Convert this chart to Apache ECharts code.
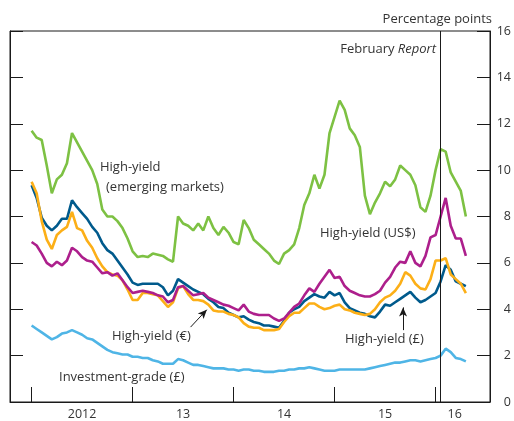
<!DOCTYPE html>
<html>
<head>
<meta charset="utf-8">
<script src="https://cdn.jsdelivr.net/npm/echarts@6/dist/echarts.min.js"></script>
<style>
  html, body { margin: 0; padding: 0; background: #fff; }
  #chart { width: 514px; height: 421px; }
</style>
</head>
<body>
<div id="chart"></div>
<script>
// dates as fractional years
const years = [
  2012.00, 2012.05, 2012.10, 2012.15, 2012.20, 2012.25, 2012.30, 2012.35, 2012.40, 2012.45,
  2012.50, 2012.55, 2012.60, 2012.65, 2012.70, 2012.75, 2012.80, 2012.85, 2012.90, 2012.95,
  2013.00, 2013.05, 2013.10, 2013.15, 2013.20, 2013.25, 2013.30, 2013.35, 2013.40, 2013.45,
  2013.50, 2013.55, 2013.60, 2013.65, 2013.70, 2013.75, 2013.80, 2013.85, 2013.90, 2013.95,
  2014.00, 2014.05, 2014.10, 2014.15, 2014.20, 2014.25, 2014.30, 2014.35, 2014.40, 2014.45,
  2014.50, 2014.55, 2014.60, 2014.65, 2014.70, 2014.75, 2014.80, 2014.85, 2014.90, 2014.95,
  2015.00, 2015.05, 2015.10, 2015.15, 2015.20, 2015.25, 2015.30, 2015.35, 2015.40, 2015.45,
  2015.50, 2015.55, 2015.60, 2015.65, 2015.70, 2015.75, 2015.80, 2015.85, 2015.90, 2015.95,
  2016.00, 2016.05, 2016.10, 2016.15, 2016.20, 2016.25, 2016.30
];

const hyEmerging = [
  11.7, 11.4, 11.3, 10.2, 9.0, 9.6, 9.8, 10.3, 11.6, 11.2,
  10.8, 10.4, 10.0, 9.4, 8.3, 8.0, 8.0, 7.8, 7.5, 7.05,
  6.5, 6.25, 6.3, 6.25, 6.4, 6.35, 6.3, 6.15, 6.05, 8.0,
  7.7, 7.6, 7.4, 7.7, 7.4, 8.0, 7.5, 7.2, 7.55, 7.3,
  6.9, 6.8, 7.85, 7.5, 7.0, 6.8, 6.6, 6.4, 6.1, 5.95,
  6.4, 6.55, 6.8, 7.5, 8.5, 9.0, 9.8, 9.2, 9.8, 11.6,
  12.3, 13.0, 12.6, 11.8, 11.5, 11.0, 8.9, 8.1, 8.6, 9.0,
  9.5, 9.3, 9.6, 10.2, 10.0, 9.8, 9.35, 8.4, 8.2, 8.9,
  10.0, 10.9, 10.8, 9.9, 9.5, 9.1, 8.0
];

const hySterling = [
  9.35, 8.8, 7.95, 7.6, 7.4, 7.6, 7.9, 7.9, 8.7, 8.4,
  8.15, 7.9, 7.55, 7.3, 6.85, 6.55, 6.4, 6.1, 5.8, 5.5,
  5.15, 5.05, 5.1, 5.1, 5.1, 5.1, 4.95, 4.6, 4.8, 5.3,
  5.15, 5.0, 4.85, 4.75, 4.65, 4.45, 4.3, 4.1, 4.05, 3.85,
  3.75, 3.65, 3.7, 3.55, 3.45, 3.4, 3.3, 3.3, 3.25, 3.2,
  3.5, 3.85, 4.0, 4.1, 4.35, 4.5, 4.65, 4.55, 4.5, 4.75,
  4.6, 4.7, 4.3, 4.05, 3.95, 3.85, 3.8, 3.7, 3.65, 3.9,
  4.2, 4.15, 4.3, 4.45, 4.6, 4.75, 4.5, 4.3, 4.4, 4.55,
  4.7, 5.2, 5.9, 5.7, 5.2, 5.1, 5.0
];

const hyEuro = [
  9.5, 9.0, 7.8, 7.0, 6.6, 7.2, 7.4, 7.55, 8.2, 7.5,
  7.4, 6.95, 6.65, 6.2, 5.85, 5.6, 5.5, 5.45, 5.25, 4.85,
  4.4, 4.4, 4.7, 4.7, 4.65, 4.6, 4.35, 4.1, 4.3, 4.9,
  5.0, 4.65, 4.4, 4.4, 4.35, 4.2, 3.95, 3.9, 3.9, 3.8,
  3.75, 3.65, 3.4, 3.25, 3.2, 3.2, 3.1, 3.1, 3.1, 3.15,
  3.45, 3.7, 3.85, 3.85, 4.05, 4.25, 4.25, 4.1, 4.0, 4.05,
  4.15, 4.2, 4.0, 3.95, 3.85, 3.8, 3.75, 3.8, 4.0, 4.3,
  4.5, 4.6, 4.8, 5.1, 5.6, 5.45, 5.1, 4.9, 4.85, 5.3,
  6.1, 6.1, 6.2, 5.5, 5.3, 5.1, 4.7
];

const hyDollar = [
  6.9, 6.75, 6.4, 6.0, 5.85, 6.05, 5.9, 6.1, 6.65, 6.5,
  6.25, 6.1, 6.05, 5.8, 5.55, 5.6, 5.45, 5.55, 5.25, 4.95,
  4.7, 4.75, 4.8, 4.75, 4.7, 4.6, 4.55, 4.3, 4.4, 4.95,
  5.0, 4.8, 4.6, 4.65, 4.7, 4.5, 4.4, 4.3, 4.2, 4.15,
  4.05, 3.95, 4.2, 3.9, 3.8, 3.75, 3.75, 3.75, 3.6, 3.5,
  3.6, 3.85, 4.1, 4.25, 4.6, 4.9, 4.75, 5.1, 5.4, 5.7,
  5.35, 5.4, 5.0, 4.8, 4.7, 4.6, 4.55, 4.55, 4.65, 4.8,
  5.15, 5.4, 5.8, 6.05, 6.0, 6.5, 6.0, 5.85, 6.3, 7.1,
  7.2, 8.0, 8.8, 7.6, 7.05, 7.05, 6.3
];

const investmentGrade = [
  3.3, 3.15, 3.0, 2.85, 2.7, 2.8, 2.95, 3.0, 3.1, 3.0,
  2.9, 2.75, 2.7, 2.55, 2.4, 2.25, 2.15, 2.1, 2.05, 2.05,
  1.95, 1.95, 1.9, 1.9, 1.8, 1.75, 1.65, 1.65, 1.65, 1.85,
  1.8, 1.7, 1.6, 1.6, 1.55, 1.5, 1.45, 1.45, 1.45, 1.4,
  1.4, 1.35, 1.4, 1.4, 1.35, 1.35, 1.3, 1.3, 1.3, 1.35,
  1.35, 1.4, 1.4, 1.45, 1.45, 1.5, 1.45, 1.4, 1.35, 1.35,
  1.35, 1.4, 1.4, 1.4, 1.4, 1.4, 1.4, 1.45, 1.5, 1.55,
  1.6, 1.65, 1.7, 1.7, 1.75, 1.8, 1.8, 1.75, 1.8, 1.85,
  1.9, 2.0, 2.3, 2.15, 1.9, 1.85, 1.75
];

const yearTicks = [2012, 2013, 2014, 2015, 2016];
const yearLabelPos = [2012.5, 2013.5, 2014.5, 2015.5, 2016.19];
const yearLabels = ['2012', '13', '14', '15', '16'];
const reportDate = 2016.05;

const FONT = '"Open Sans", "Noto Sans", sans-serif';
const TEXT = '#333';
const LBL = '13px ' + FONT;

function pairs(ys) {
  return ys.map((v, i) => [years[i], v]);
}

function lineSeries(name, data, color, extra) {
  return Object.assign({
    name: name,
    type: 'line',
    data: pairs(data),
    showSymbol: false,
    symbol: 'none',
    silent: true,
    lineStyle: {color: color, width: 2.6},
    itemStyle: {color: color}
  }, extra || {});
}

const chart = echarts.init(document.getElementById('chart'));
chart.setOption({
  animation: false,
  backgroundColor: '#fff',
  textStyle: {fontFamily: FONT},
  grid: {
    left: 10, right: 23, top: 31, bottom: 19,
    show: true, borderColor: '#1a1a1a', borderWidth: 1
  },
  xAxis: {
    type: 'value',
    min: 2011.786,
    max: 2016.539,
    axisLine: {show: true, lineStyle: {color: '#1a1a1a', width: 1}},
    axisTick: {
      show: true, inside: true, length: 15,
      customValues: yearTicks,
      lineStyle: {color: '#1a1a1a', width: 1}
    },
    axisLabel: {
      show: true,
      customValues: yearLabelPos,
      margin: 6,
      color: TEXT,
      fontSize: 12.5,
      fontFamily: FONT,
      formatter: function (v) {
        const i = yearLabelPos.indexOf(v);
        return i >= 0 ? yearLabels[i] : '';
      }
    },
    splitLine: {show: false}
  },
  yAxis: [{
    type: 'value',
    position: 'right',
    min: 0, max: 16, interval: 2,
    axisLine: {show: true, lineStyle: {color: '#1a1a1a'}},
    axisTick: {show: true, inside: true, length: 13, lineStyle: {color: '#1a1a1a'}},
    axisLabel: {
      color: TEXT, fontSize: 12.5, fontFamily: FONT,
      align: 'right', margin: 21
    },
    splitLine: {show: false}
  }, {
    type: 'value',
    position: 'left',
    min: 0, max: 16, interval: 2,
    axisLine: {show: true, lineStyle: {color: '#1a1a1a'}},
    axisTick: {show: true, inside: true, length: 13, lineStyle: {color: '#1a1a1a'}},
    axisLabel: {show: false},
    splitLine: {show: false}
  }],
  series: [
    lineSeries('High-yield (emerging markets)', hyEmerging, '#7dc143'),
    lineSeries('High-yield (£)', hySterling, '#005a8c'),
    lineSeries('High-yield (€)', hyEuro, '#fcaf17'),
    lineSeries('High-yield (US$)', hyDollar, '#ad1f8c'),
    lineSeries('Investment-grade (£)', investmentGrade, '#4fb5e6', {
      markLine: {
        silent: true,
        animation: false,
        label: {show: false},
        data: [
          [{coord: [reportDate, 0], symbol: 'none'},
           {coord: [reportDate, 16], symbol: 'none'}],
          [{coord: [2013.574, 3.23], symbol: 'none'},
           {coord: [2013.735, 3.98], symbol: 'arrow', symbolSize: [6, 9]}],
          [{coord: [2015.678, 3.10], symbol: 'none'},
           {coord: [2015.678, 4.08], symbol: 'arrow', symbolSize: [6, 9]}]
        ],
        lineStyle: {color: '#1a1a1a', width: 1, type: 'solid'}
      }
    })
  ],
  graphic: [
    {type: 'text', x: 492, y: 19, style: {text: 'Percentage points', fill: TEXT, font: LBL, align: 'right', verticalAlign: 'middle'}},
    {type: 'text', x: 436, y: 49, style: {
      text: '{n|February }{i|Report}',
      align: 'right', verticalAlign: 'middle',
      rich: {
        n: {fill: TEXT, fontSize: 13, fontFamily: FONT},
        i: {fill: TEXT, fontSize: 13, fontFamily: FONT, fontStyle: 'italic'}
      }
    }},
    {type: 'text', x: 100, y: 167, style: {text: 'High-yield', fill: TEXT, font: LBL, verticalAlign: 'middle'}},
    {type: 'text', x: 106, y: 187, style: {text: '(emerging markets)', fill: TEXT, font: LBL, verticalAlign: 'middle'}},
    {type: 'text', x: 320, y: 233, style: {text: 'High-yield (US$)', fill: TEXT, font: LBL, verticalAlign: 'middle'}},
    {type: 'text', x: 112, y: 336, style: {text: 'High-yield (€)', fill: TEXT, font: LBL, verticalAlign: 'middle'}},
    {type: 'text', x: 345, y: 339, style: {text: 'High-yield (£)', fill: TEXT, font: LBL, verticalAlign: 'middle'}},
    {type: 'text', x: 59, y: 377, style: {text: 'Investment-grade (£)', fill: TEXT, font: LBL, verticalAlign: 'middle'}}
  ]
});
</script>
</body>
</html>
